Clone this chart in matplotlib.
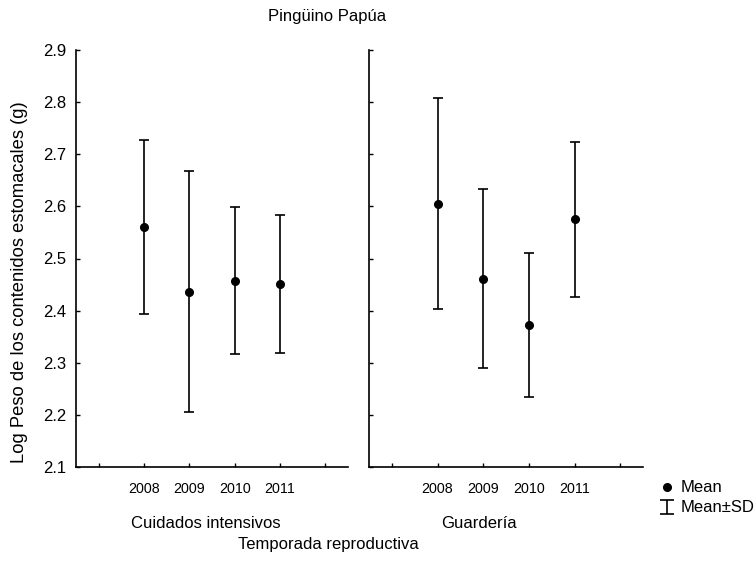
import matplotlib
matplotlib.use("Agg")
import matplotlib.pyplot as plt
from matplotlib.lines import Line2D
from matplotlib.path import Path

plt.rcParams['font.family'] = ['Liberation Sans', 'DejaVu Sans']

years = ['2008', '2009', '2010', '2011']
groups = ['Cuidados intensivos', 'Guardería']
means_ci = [2.561, 2.436, 2.457, 2.451]
sd_ci = [0.167, 0.231, 0.141, 0.133]
means_gu = [2.605, 2.461, 2.373, 2.575]
sd_gu = [0.202, 0.172, 0.138, 0.148]
yticks = [2.1, 2.2, 2.3, 2.4, 2.5, 2.6, 2.7, 2.8, 2.9]

fig = plt.figure(figsize=(7.55, 5.63), dpi=100)
W, H = 755, 563
bottom = 1 - 467 / H
height = (467 - 50) / H
ax1 = fig.add_axes([76 / W, bottom, 272 / W, height])
ax2 = fig.add_axes([369 / W, bottom, 274 / W, height], sharey=ax1)

for ax, m, s in [(ax1, means_ci, sd_ci), (ax2, means_gu, sd_gu)]:
    xs = list(range(1, len(years) + 1))
    ax.errorbar(xs, m, yerr=s, fmt='o', color='black', ms=5.5,
                elinewidth=1.2, capsize=3.8, capthick=1.2)
    ax.set_xlim(-0.5, 5.5)
    ax.set_xticks(range(0, 6))
    ax.set_xticklabels([''] + years + [''], fontsize=10.3)
    ax.spines['top'].set_visible(False)
    ax.spines['right'].set_visible(False)
    for sp in ('left', 'bottom'):
        ax.spines[sp].set_linewidth(1.2)
    ax.tick_params(axis='both', direction='in', length=3, width=1.0)
    ax.tick_params(axis='x', pad=11)

ax1.set_ylim(2.1, 2.9)
ax1.set_yticks(yticks)
ax1.set_yticklabels([f'{v:.1f}' for v in yticks], fontsize=12)
ax1.tick_params(axis='y', pad=7)
ax2.tick_params(axis='y', labelleft=False)

fig.text(327 / W, 1 - 17 / H, 'Pingüino Papúa', ha='center', va='center', fontsize=12)
fig.text(206 / W, 1 - 523 / H, groups[0], ha='center', va='center', fontsize=12)
fig.text(479 / W, 1 - 523 / H, groups[1], ha='center', va='center', fontsize=12)
fig.text(328 / W, 1 - 545 / H, 'Temporada reproductiva', ha='center', va='center', fontsize=12)
fig.text(20 / W, 1 - 282 / H, 'Log Peso de los contenidos estomacales (g)',
         rotation=90, ha='center', va='center', fontsize=13.2)

ibeam = Path([(-1, -1), (1, -1), (0, -1), (0, 1), (-1, 1), (1, 1)],
             [Path.MOVETO, Path.LINETO, Path.MOVETO, Path.LINETO, Path.MOVETO, Path.LINETO])
handles = [Line2D([], [], ls='none', marker='o', color='black', ms=5.5),
           Line2D([], [], ls='none', marker=ibeam, color='black', ms=10,
                  markerfacecolor='none', mew=1.2)]
fig.legend(handles, ['Mean', 'Mean±SD'], loc='upper left',
           bbox_to_anchor=(650 / W, 1 - 472 / H), frameon=False,
           fontsize=12, handlelength=1.0, handletextpad=0.35,
           labelspacing=0.3, borderpad=0.0)

fig.savefig('out.png', dpi=100)
